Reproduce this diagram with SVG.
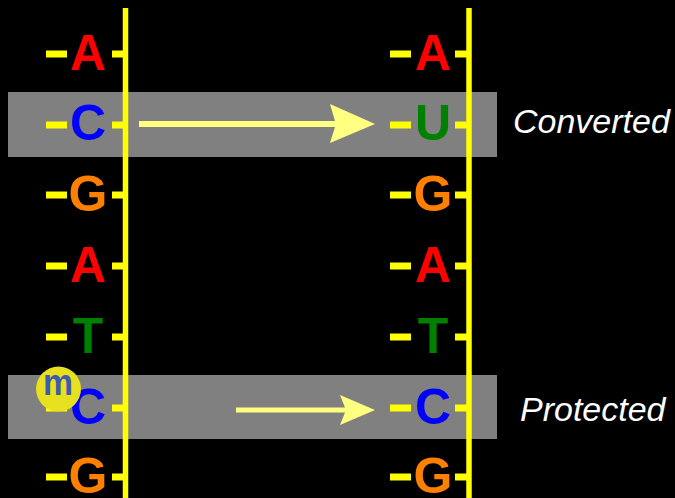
<svg xmlns="http://www.w3.org/2000/svg" width="675" height="498" viewBox="0 0 675 498">
<style>
.band{fill:#808080}
.strand{stroke:#FFFF00;stroke-width:5.5;fill:none}
.dash{fill:#FFFF00}
.base{font-family:"Liberation Sans",Arial,sans-serif;font-weight:bold;font-size:50px;text-anchor:middle}
.A{fill:#FF0000}.C{fill:#0000FF}.G{fill:#FF8000}.T{fill:#008000}.U{fill:#008000}
.lbl{font-family:"Liberation Sans",Arial,sans-serif;font-style:italic;font-size:34px;fill:#FFFFFF}
.arrow{fill:#FFFF80}
</style>
<defs>
<g id="tick">
<rect class="dash" x="46" y="-3.5" width="21" height="7"/>
<rect class="dash" x="112" y="-3.5" width="13" height="7"/>
</g>
<g id="tickR">
<rect class="dash" x="390" y="-3.5" width="21" height="7"/>
<rect class="dash" x="455" y="-3.5" width="13" height="7"/>
</g>
</defs>
<rect width="675" height="498" fill="#000000"/>
<g id="bands">
<rect class="band" x="8" y="92" width="489" height="65"/>
<rect class="band" x="8" y="375" width="489" height="64"/>
</g>
<g id="left-strand">
<line class="strand" x1="125.5" y1="8" x2="125.5" y2="498"/>
<use href="#tick" y="54"/>
<use href="#tick" y="125"/>
<use href="#tick" y="195"/>
<use href="#tick" y="266"/>
<use href="#tick" y="337"/>
<use href="#tick" y="408"/>
<use href="#tick" y="477"/>
<text class="base A" x="88" y="70">A</text>
<text class="base C" x="88" y="140">C</text>
<text class="base G" x="88" y="211">G</text>
<text class="base A" x="88" y="282">A</text>
<text class="base T" x="88" y="353">T</text>
<text class="base C" x="88" y="424">C</text>
<text class="base G" x="88" y="493">G</text>
</g>
<g id="methyl">
<circle cx="58.5" cy="389" r="22.5" fill="#E6E01E"/>
<text x="43" y="395" font-family="'Liberation Sans',Arial,sans-serif" font-weight="bold" font-size="36" fill="#3F5AAE" textLength="30" lengthAdjust="spacingAndGlyphs">m</text>
</g>
<g id="right-strand">
<line class="strand" x1="469" y1="8" x2="469" y2="498"/>
<use href="#tickR" y="54"/>
<use href="#tickR" y="125"/>
<use href="#tickR" y="195"/>
<use href="#tickR" y="266"/>
<use href="#tickR" y="337"/>
<use href="#tickR" y="408"/>
<use href="#tickR" y="477"/>
<text class="base A" x="433" y="70">A</text>
<text class="base U" x="433" y="140">U</text>
<text class="base G" x="433" y="211">G</text>
<text class="base A" x="433" y="282">A</text>
<text class="base T" x="433" y="353">T</text>
<text class="base C" x="433" y="424">C</text>
<text class="base G" x="433" y="493">G</text>
</g>
<g id="connectors">
<polygon class="arrow" points="139,121 335,121 330,104 375,124 330,143 335,127 139,127"/>
<polygon class="arrow" points="236,407.5 345,407.5 340,395 375,410 340,425 345,412.5 236,412.5"/>
</g>
<g id="labels">
<text class="lbl" x="513" y="133">Converted</text>
<text class="lbl" x="520" y="421">Protected</text>
</g>
</svg>
